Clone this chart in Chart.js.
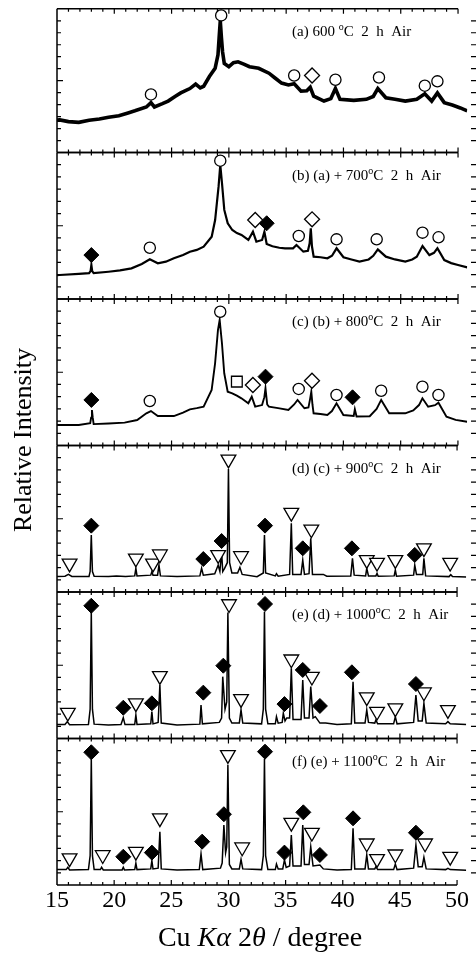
<!DOCTYPE html>
<html><head><meta charset="utf-8">
<script src="https://cdn.jsdelivr.net/npm/chart.js@4.4.1/dist/chart.umd.min.js"></script>
<style>
html,body{margin:0;padding:0;background:#fff;overflow:hidden}
#wrap{position:relative;width:476px;height:956px}
#wrap canvas{position:absolute;left:0;top:0}
</style></head><body><div id="wrap"></div>
<script>
// 2theta tick labels
const xTicks = [15, 20, 25, 30, 35, 40, 45, 50];

// panel captions (text before the degree sign)
const tags = ['(a) 600 ', '(b) (a) + 700', '(c) (b) + 800', '(d) (c) + 900', '(e) (d) + 1000', '(f) (e) + 1100'];
const tail = 'C  2  h  Air';

// XRD profiles [2theta, relative intensity 0-100 inside each panel]
const profA = [[15.0,22.5],[15.24,22.7],[16.0,21.5],[16.9,21.0],[17.8,22.5],[18.7,23.3],[19.5,24.5],[20.4,25.6],[21.2,27.5],[21.8,29.0],[22.8,31.7],[23.2,34.7],[23.5,31.7],[24.2,34],[24.7,35.8],[25.3,39],[25.8,41.5],[26.6,44.5],[27.1,47.6],[27.5,45],[27.8,46.1],[28.3,52.9],[28.8,58.6],[29.05,68],[29.15,80],[29.25,91.6],[29.35,80],[29.45,70],[29.6,62],[30.0,59.7],[30.4,62.5],[30.8,63.1],[31.3,61.5],[31.8,59.7],[32.6,58.6],[33.5,55.2],[34.0,52],[34.6,48.3],[35.2,47],[35.7,47.8],[36.3,42.7],[36.8,43],[37.1,45.4],[37.4,39.2],[38.3,35.8],[38.9,37.5],[39.3,44.5],[39.7,37.0],[40.9,36.3],[42.0,37.0],[42.6,39],[43.0,44.5],[43.7,38.1],[44.5,37],[45.4,35.8],[46.4,37],[47.1,40.8],[47.7,35.8],[48.2,41.5],[48.8,34.7],[49.5,33],[50.2,31],[50.8,29]];
const profB = [[15.0,16.3],[15.24,16.4],[16.9,17.1],[17.8,17.6],[17.93,19],[18.0,23.2],[18.07,19],[18.2,17.6],[19.5,18.6],[20.5,19.5],[21.5,20.9],[22.4,23.9],[23.1,27.1],[23.8,24.4],[24.5,25.5],[25.2,27.8],[26.0,30],[26.6,32.3],[27.2,33.5],[27.8,35.7],[28.5,42.5],[28.8,53.9],[29.1,76.7],[29.25,91.5],[29.4,79],[29.6,60.8],[29.9,51.7],[30.3,47.1],[30.7,45],[31.1,43.7],[31.7,40.3],[32.1,45.9],[32.4,39.1],[32.9,40.3],[33.1,45.9],[33.3,37.5],[33.8,36],[34.4,35],[34.9,34.6],[35.6,34.6],[35.9,36.9],[36.5,32.3],[36.9,32.9],[37.05,38],[37.15,48.3],[37.25,36],[37.4,28.9],[38.0,28.5],[38.6,27.8],[39.0,29.5],[39.4,34.6],[40.0,28.5],[40.7,27],[41.4,25.5],[42.2,27],[42.6,29.5],[43.0,33.9],[43.7,28.9],[44.5,27],[45.4,25.5],[46.0,27],[46.4,28.9],[46.9,36.2],[47.5,30.0],[47.9,31.5],[48.2,34.6],[48.8,26.6],[49.4,24.5],[50.0,23.2],[50.8,21.6]];
const profC = [[15.0,14.0],[16.0,14.0],[16.9,14.0],[17.9,15.2],[17.98,19],[18.05,24.2],[18.12,19],[18.2,14.6],[19.5,15],[20.9,15.6],[22.0,17.4],[22.8,22.0],[23.2,23.5],[23.8,20.1],[25.2,20.1],[26.0,22.5],[26.6,24.7],[27.2,25.5],[27.8,26.5],[28.5,37.9],[28.8,56.1],[29.05,78.8],[29.2,85.7],[29.4,69.8],[29.6,49.3],[29.9,36.7],[30.3,35.6],[30.7,34],[31.1,32.2],[31.7,28.8],[32.0,33.3],[32.3,26.5],[32.9,27.6],[33.1,33],[33.2,39.0],[33.35,28],[33.5,26.5],[34.3,25.5],[35.2,24.2],[35.7,28],[36.0,31.1],[36.6,25.4],[36.95,25.9],[37.1,32],[37.2,36.7],[37.3,28],[37.4,22.0],[38.0,21.5],[38.6,20.8],[39.0,23.5],[39.4,28.8],[40.0,20.8],[40.9,20.1],[41.0,24.7],[41.15,19.8],[42.3,20],[42.9,25],[43.3,31.1],[44.0,22],[45.4,22],[46.1,24],[46.6,27.6],[46.9,32.2],[47.4,26.5],[48.0,27.5],[48.3,29.2],[49.0,19.7],[49.8,17.5],[50.8,16.2]];
const profD = [[15.0,10.5],[15.7,10.8],[16.0,12.0],[16.3,10.6],[17.8,10.6],[17.9,14],[18.0,38.9],[18.1,14],[18.25,10.8],[19.5,10.5],[20.2,11],[21.0,10.5],[21.8,11],[21.9,16.2],[22.0,11],[23.2,11.5],[23.3,13.9],[23.4,11.5],[23.8,11.5],[23.92,18.4],[24.05,11],[25.5,10.5],[27.5,11],[27.65,16.2],[27.8,11.5],[28.8,12.5],[29.1,18.4],[29.25,14],[29.4,27.5],[29.5,14],[29.65,16],[29.9,20],[30.0,84],[30.1,20],[30.3,13],[30.8,13],[31.0,16.8],[31.2,12],[32.5,10.5],[33.05,13],[33.15,38.9],[33.25,13],[34.1,11],[34.2,12.5],[34.35,10.8],[35.35,12],[35.5,46.9],[35.62,12],[36.35,12],[36.5,21.8],[36.65,12],[37.05,12.5],[37.2,36.6],[37.35,12],[38.3,12],[38.6,10.8],[40.7,11],[40.85,23],[41.0,11.5],[42.0,11],[42.1,16.2],[42.25,11],[42.9,11],[43.0,12.7],[43.1,10.8],[44.5,11],[44.6,15],[44.7,10.8],[46.2,11.5],[46.3,18.4],[46.45,12],[47.0,12],[47.1,23],[47.25,11],[49.3,10.5],[49.45,11.8],[49.6,10.5],[50.8,10.3]];
const profE = [[15.0,9.5],[15.7,9.5],[15.9,11.5],[16.1,9.4],[17.75,9.5],[17.9,20],[18.0,86.6],[18.1,20],[18.25,9.8],[19.5,9.3],[20.6,9.5],[20.8,14.2],[20.95,9.5],[21.8,9.6],[21.9,16.0],[22.0,9.6],[23.2,10],[23.3,18.3],[23.4,10],[23.85,11],[24.0,36.5],[24.12,10.5],[25.5,9.3],[27.5,9.8],[27.6,22.9],[27.72,10],[29.2,11],[29.4,14],[29.5,42.2],[29.7,20],[29.85,25],[29.95,86],[30.08,14],[30.3,10.5],[30.95,10.5],[31.1,19.5],[31.25,10.5],[32.9,10],[33.05,20],[33.15,86.5],[33.25,20],[33.45,10],[34.1,10],[34.2,14.9],[34.35,10.5],[34.7,11],[34.8,17.2],[34.95,12],[35.1,14],[35.35,14],[35.5,47.9],[35.65,13],[36.35,13],[36.5,39.9],[36.65,14],[37.05,14],[37.2,35.4],[37.4,14],[37.6,14.9],[38.0,10.5],[38.5,10.5],[39.5,9.5],[40.75,10],[40.9,38.8],[41.05,10.5],[41.95,10.5],[42.1,19.5],[42.25,11],[42.8,10.5],[42.9,12.6],[43.05,10],[44.45,10],[44.6,14.9],[44.75,10],[46.2,11],[46.4,29.7],[46.6,12],[46.95,12],[47.1,24.0],[47.3,10.5],[49.0,10],[49.2,11.5],[49.4,10],[50.8,9.5]];
const profF = [[15.0,10.5],[15.8,10.5],[15.95,12.1],[16.1,10.3],[17.75,10.5],[17.9,20],[18.0,86.7],[18.1,20],[18.25,10.5],[18.8,10.5],[18.9,12.1],[19.05,10.3],[20.7,10.3],[20.8,12.1],[20.9,10.3],[21.8,10.5],[21.9,14.8],[22.0,10.5],[23.2,11],[23.3,16.6],[23.4,11],[23.85,11.5],[24.0,36.4],[24.12,11],[25.5,10.2],[27.45,10.5],[27.6,21.2],[27.75,10.5],[29.3,11.5],[29.45,15],[29.6,41.0],[29.75,22],[29.85,26],[29.95,82],[30.08,14],[30.3,11],[30.95,11],[31.1,17.5],[31.25,11],[32.9,10.5],[33.05,20],[33.15,86],[33.25,20],[33.45,10.5],[34.1,10.5],[34.2,14.3],[34.35,11],[34.75,11],[34.9,17.1],[35.05,12],[35.35,13],[35.5,34.1],[35.65,13],[36.35,13],[36.5,41.0],[36.65,14],[37.05,14],[37.2,26.1],[37.4,13],[38.0,13.7],[38.3,11],[39.5,10.3],[40.75,10.5],[40.9,38.7],[41.05,11],[41.95,11],[42.1,20.5],[42.25,11],[42.8,11],[42.9,12.5],[43.05,10.5],[44.45,10.5],[44.6,14.3],[44.75,10.5],[46.2,11.5],[46.4,27.3],[46.6,12.5],[46.95,12.5],[47.1,18.9],[47.3,11],[49.0,10.5],[49.2,11.4],[49.4,10.5],[50.8,10]];

// phase markers [type, 2theta, height]; o circle, D filled diamond, d open diamond, v triangle, s square
const markA = [['o',23.2,40.4],['o',29.33,95.4],['o',35.7,53.6],['d',37.26,53.6],['o',39.3,50.6],['o',43.1,52.2],['o',47.1,46.5],['o',48.2,49.5]];
const markB = [['D',18.0,30.0],['o',23.1,35.0],['o',29.25,94.4],['d',32.3,53.9],['D',33.3,51.7],['o',36.1,43.0],['d',37.26,54.4],['o',39.4,40.7],['o',42.9,40.7],['o',46.9,45.3],['o',48.3,42.1]];
const markC = [['D',18.0,31.1],['o',23.1,30.4],['o',29.25,91.3],['s',30.7,43.6],['d',32.1,41.3],['D',33.2,47.0],['o',36.1,38.6],['d',37.26,44.2],['o',39.4,34.5],['D',40.8,32.9],['o',43.3,37.4],['o',46.9,40.1],['o',48.3,34.5]];
const markD = [['v',16.1,19.5],['D',18.0,45.3],['v',21.9,23],['v',23.4,19.5],['v',24.0,25.8],['D',27.8,22.5],['v',29.1,25.3],['D',29.4,34.8],['v',30.0,90.5],['v',31.1,24.6],['D',33.2,45.3],['v',35.5,54.2],['D',36.5,29.8],['v',37.25,42.8],['D',40.8,29.8],['v',42.1,21.9],['v',43.0,20.1],['v',44.6,21.9],['D',46.3,25.3],['v',47.1,29.9],['v',49.4,20.1]];
const markE = [['v',15.95,17.7],['D',18.0,90.6],['D',20.8,21.0],['v',21.9,24.1],['D',23.3,24.0],['v',24.0,42.7],['D',27.8,31.3],['D',29.55,49.7],['v',30.05,91.8],['v',31.1,27.0],['D',33.2,91.8],['D',34.9,23.5],['v',35.5,54.1],['D',36.5,46.8],['v',37.3,42.3],['D',38.0,22.2],['D',40.8,45.2],['v',42.1,28.2],['v',43.0,18.4],['v',44.6,20.7],['D',46.4,37.2],['v',47.1,31.6],['v',49.2,19.5]];
const markF = [['v',16.1,18.3],['D',18.0,90.6],['v',19.0,20.5],['D',20.8,19.3],['v',21.9,22.8],['D',23.3,22.1],['v',24.0,45.6],['D',27.7,29.6],['D',29.6,48.3],['v',29.95,88.8],['v',31.2,25.8],['D',33.2,91.0],['D',34.9,22.1],['v',35.5,42.6],['D',36.55,49.6],['v',37.3,35.8],['D',38.0,20.5],['D',40.9,45.5],['v',42.1,28.5],['v',43.0,17.8],['v',44.6,21.0],['D',46.4,35.7],['v',47.2,28.5],['v',49.4,19.4]];

const profiles = [profA, profB, profC, profD, profE, profF];
const marks = [markA, markB, markC, markD, markE, markF];
const lineWidths = [3.6, 2.2, 1.9, 1.5, 1.5, 1.5];

const W = 476, H = 956, TOP = 6, PH = 146.5, LEFT = 57;
const serif = '"Liberation Serif", "Times New Roman", serif';

const markerStyles = {
  o: {pointStyle: 'circle', pointRadius: 5.6, pointBackgroundColor: '#fff', pointBorderWidth: 1.3},
  d: {pointStyle: 'rectRot', pointRadius: 7.5, pointBackgroundColor: '#fff', pointBorderWidth: 1.3},
  D: {pointStyle: 'rectRot', pointRadius: 7.5, pointBackgroundColor: '#000', pointBorderWidth: 1},
  v: {pointStyle: 'triangle', pointRotation: 180, pointRadius: 8.5, pointBackgroundColor: '#fff', pointBorderWidth: 1.3},
  s: {pointStyle: 'rect', pointRadius: 7.6, pointBackgroundColor: '#fff', pointBorderWidth: 1.3}
};

// frame, inward ticks, caption and axis titles
const framePlugin = {
  id: 'frame',
  afterDraw(chart, args, opts) {
    const {ctx, chartArea: a, scales: {x, y}} = chart;
    const right = x.getPixelForValue(50);
    ctx.save();
    ctx.strokeStyle = '#000';
    ctx.lineWidth = 1.5;
    ctx.beginPath();
    ctx.moveTo(a.left, a.top); ctx.lineTo(right, a.top);
    ctx.moveTo(a.left, a.bottom); ctx.lineTo(right, a.bottom);
    ctx.moveTo(a.left, a.top); ctx.lineTo(a.left, a.bottom);
    ctx.stroke();
    ctx.lineWidth = 1.2;
    ctx.beginPath();
    for (let v = 16; v <= 50; v++) {
      const px = x.getPixelForValue(v);
      const len = v % 5 === 0 ? 5 : 3;
      ctx.moveTo(px, a.top); ctx.lineTo(px, a.top + len);
      ctx.moveTo(px, a.bottom); ctx.lineTo(px, a.bottom - len);
    }
    for (let k = 1; k < 12; k++) {
      const py = y.getPixelForValue(k * 100 / 12);
      const len = k === 6 ? 6 : 4;
      ctx.moveTo(a.left, py); ctx.lineTo(a.left + len, py);
      ctx.moveTo(W, py); ctx.lineTo(W - 5, py);
    }
    ctx.stroke();

    // caption
    const i = opts.index;
    ctx.fillStyle = '#000';
    ctx.textBaseline = 'alphabetic';
    let cx = 292;
    const cy = a.top + 27;
    ctx.font = '15px ' + serif;
    ctx.fillText(tags[i], cx, cy);
    cx += ctx.measureText(tags[i]).width;
    ctx.font = '10px ' + serif;
    ctx.fillText('o', cx, cy - 6);
    cx += ctx.measureText('o').width;
    ctx.font = '15px ' + serif;
    ctx.fillText(tail, cx, cy);

    if (opts.last) {
      // y title
      ctx.save();
      ctx.translate(31, 440);
      ctx.rotate(-Math.PI / 2);
      ctx.font = '26px ' + serif;
      ctx.textAlign = 'center';
      ctx.fillText('Relative Intensity', 0, 0);
      ctx.restore();
      // x title with italic symbols
      const parts = [['Cu ', ''], ['K\u03b1', 'italic '], [' 2', ''], ['\u03b8', 'italic '], [' / degree', '']];
      let total = 0;
      parts.forEach(p => { ctx.font = p[1] + '28px ' + serif; total += ctx.measureText(p[0]).width; });
      let tx = 260 - total / 2;
      parts.forEach(p => {
        ctx.font = p[1] + '28px ' + serif;
        ctx.fillText(p[0], tx, 946);
        tx += ctx.measureText(p[0]).width;
      });
    }
    ctx.restore();
  }
};

const wrap = document.getElementById('wrap');
profiles.forEach((prof, i) => {
  const cv = document.createElement('canvas');
  cv.width = W; cv.height = H;
  wrap.appendChild(cv);
  const last = i === profiles.length - 1;
  const datasets = [{
    data: prof.map(d => ({x: d[0], y: d[1]})),
    showLine: true, borderColor: '#000', borderWidth: lineWidths[i],
    pointRadius: 0, tension: 0, order: 10
  }];
  Object.keys(markerStyles).forEach(k => {
    const pts = marks[i].filter(m => m[0] === k).map(m => ({x: m[1], y: m[2]}));
    if (pts.length) datasets.push(Object.assign({data: pts, pointBorderColor: '#000', order: 0, clip: false}, markerStyles[k]));
  });
  const top = TOP + i * PH;
  new Chart(cv, {
    type: 'scatter',
    data: {datasets},
    options: {
      responsive: false, animation: false, devicePixelRatio: 1,
      layout: {padding: {left: LEFT, right: 0, top: top, bottom: last ? 0 : H - (top + PH)}},
      plugins: {legend: {display: false}, tooltip: {enabled: false}, frame: {index: i, last}},
      scales: {
        x: {
          type: 'linear', min: 15, max: 50.8, display: last,
          grid: {display: false, drawTicks: false}, border: {display: false},
          ticks: {font: {family: serif, size: 24}, color: '#000', padding: 1, maxRotation: 0, autoSkip: false},
          afterBuildTicks: s => { s.ticks = xTicks.map(v => ({value: v})); },
          afterFit: s => {
            if (!last) return;
            s.height = H - (TOP + 6 * PH); s.paddingLeft = 0; s.paddingRight = 0;
          }
        },
        y: {min: 0, max: 100, display: false}
      }
    },
    plugins: [framePlugin]
  });
});
</script></body></html>
